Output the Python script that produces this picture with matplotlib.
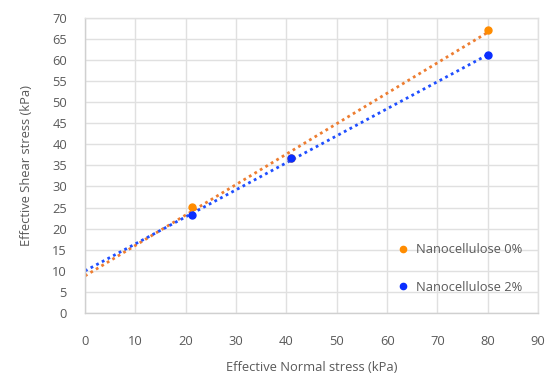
import numpy as np
import matplotlib
matplotlib.use("Agg")
import matplotlib.pyplot as plt

normal_0 = [21.3, 40.9, 80.1]
shear_0 = [25.2, 36.8, 67.2]
normal_2 = [21.3, 40.9, 80.1]
shear_2 = [23.3, 36.7, 61.2]
labels = ["Nanocellulose 0%", "Nanocellulose 2%"]
x_ticks = list(range(0, 91, 10))
y_ticks = list(range(0, 71, 5))

plt.rcParams['font.family'] = ['Open Sans', 'DejaVu Sans']
txt = '#595959'
fs = 9.3

fig = plt.figure(figsize=(5.52, 3.76), dpi=100)
ax = fig.add_axes([0.154, 0.168, 0.821, 0.784])

xs = np.array([0, 80.1])
for nx, ny, pc, lc in [(normal_0, shear_0, '#FF8C00', '#ED7D31'),
                       (normal_2, shear_2, '#0A2EFF', '#1F4EFF')]:
    m, b = np.polyfit(nx, ny, 1)
    ax.plot(xs, m * xs + b, color=lc, lw=2, ls=(0, (1, 1.3)), zorder=2)

ax.plot(normal_0, shear_0, 'o', color='#FF8C00', ms=5, label=labels[0], zorder=3)
ax.plot(normal_2, shear_2, 'o', color='#0A2EFF', ms=5, label=labels[1], zorder=4)

ax.set_xlim(0, 90)
ax.set_ylim(0, 70)
ax.set_xticks(x_ticks)
ax.set_yticks(y_ticks)
ax.grid(True, color='#E0E0E0', lw=1)
ax.set_axisbelow(True)
for s in ax.spines.values():
    s.set_color('#E0E0E0')
    s.set_linewidth(1)
ax.spines['left'].set_color('#D0D0D0')
ax.spines['bottom'].set_color('#D0D0D0')
ax.tick_params(axis='both', length=0, labelsize=fs, colors=txt)
ax.tick_params(axis='x', pad=16)
ax.tick_params(axis='y', pad=13)
ax.set_xlabel('Effective Normal stress (kPa)', fontsize=fs, color=txt, labelpad=9)
ax.set_ylabel('Effective Shear stress (kPa)', fontsize=fs, color=txt, labelpad=14)

leg = ax.legend(loc='lower right', bbox_to_anchor=(0.99, 0.025), frameon=False,
                fontsize=fs, handlelength=0.6, handletextpad=0.7, labelspacing=1.9,
                markerscale=0.9, labelcolor=txt)

fig.savefig('out.png', dpi=100)
